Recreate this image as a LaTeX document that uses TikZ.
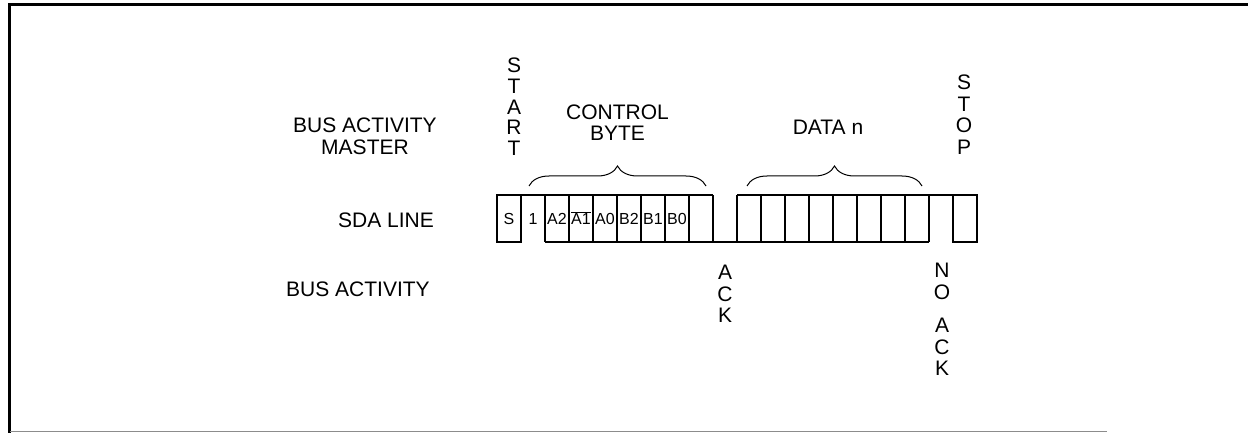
\documentclass[tikz,border=0pt]{standalone}
\usepackage{fontspec}
\setmainfont{Liberation Sans}
\usetikzlibrary{decorations.pathreplacing}
\tikzset{
  lbl/.style={font=\fontsize{21}{21.5}\selectfont, inner sep=0pt},
  vlbl/.style={lbl, align=center},
  bitlbl/.style={font=\fontsize{16}{17}\selectfont, inner sep=0pt, anchor=base},
  wave/.style={line width=1.3pt},
  brc/.style={line width=1pt, decorate, decoration={brace, amplitude=20pt}},
}

\begin{document}
\begin{tikzpicture}[x=1pt,y=-1pt]
\useasboundingbox (0,0) rectangle (1248,433);

% frame
\draw[line width=3pt] (9.5,433) -- (9.5,5) -- (1248,5);
\draw[black!45, line width=1pt] (10,431.5) -- (1107,431.5);

% SDA line
\draw[wave] (497,195) rectangle (521,242);
\draw[wave] (521,195) -- (713,195);
\draw[wave] (545,242) -- (929,242);
\foreach \x in {545,569,...,713}
  \draw[wave] (\x,195) -- (\x,242);
\draw[wave] (737,195) -- (953,195);
\foreach \x in {737,761,...,929}
  \draw[wave] (\x,195) -- (\x,242);
\draw[wave] (953,195) rectangle (977,242);

\node[bitlbl] (bitS) at (509,224.5) {S};
\node[bitlbl] (bit1) at (533,224.5) {1};
\node[bitlbl] (bitA2) at (557,224.5) {A2};
\node[bitlbl] (bitA1) at (581,224.5) {$\overline{\mbox{A1}}$};
\node[bitlbl] (bitA0) at (605,224.5) {A0};
\node[bitlbl] (bitB2) at (629,224.5) {B2};
\node[bitlbl] (bitB1) at (653,224.5) {B1};
\node[bitlbl] (bitB0) at (677,224.5) {B0};

% braces
\draw[brc] (529,186) -- (706,186);
\draw[brc] (747,186) -- (922,186);

% labels
\node[vlbl, font=\fontsize{21}{22}\selectfont] (master) at (365,136.5) {BUS ACTIVITY\\MASTER};
\node[lbl] (sda) at (386,220) {SDA LINE};
\node[lbl] (slave) at (358,289.5) {BUS ACTIVITY};
\node[vlbl, font=\fontsize{21}{20.8}\selectfont] (start) at (514,106.7) {S\\T\\A\\R\\T};
\node[vlbl] (ctrl) at (617.5,122.5) {CONTROL\\BYTE};
\node[lbl] (data) at (828,127.5) {DATA n};
\node[vlbl] (stop) at (964,114.5) {S\\T\\O\\P};
\node[vlbl] (ack) at (725,294) {A\\C\\K};
\node[vlbl] (nack) at (942,319.7) {N\\O\\[12pt]A\\C\\K};
\end{tikzpicture}
\end{document}
